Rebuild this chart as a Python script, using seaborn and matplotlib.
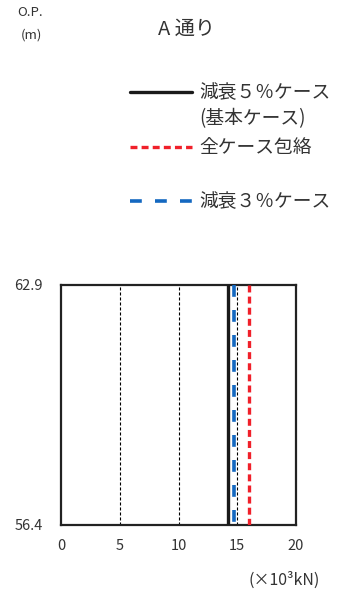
import matplotlib
matplotlib.use('Agg')
import matplotlib.pyplot as plt
import seaborn as sns
import pandas as pd
from matplotlib.lines import Line2D

# data
elevation = [62.9, 56.4]          # O.P. (m), top and bottom of the member
case_names = ['減衰５％ケース\n(基本ケース)', '全ケース包絡', '減衰３％ケース']
case_values = [14.2, 16.0, 14.7]  # (x10^3 kN), constant over the height
x_ticks = [0, 5, 10, 15, 20]
y_tick_labels = ['56.4', '62.9']

# styles per case
case_colors = ['#1a1a1a', '#f0202a', '#1468c0']
case_widths = [2.4, 2.4, 2.6]
case_dashes = [None, (0, (5.0, 3.0)), (0, (8.5, 9.5))]

sns.set_theme(style='white')
plt.rcParams['font.family'] = ['Noto Sans CJK JP', 'DejaVu Sans']
plt.rcParams['lines.scale_dashes'] = False

fig = plt.figure(figsize=(3.39, 5.98), dpi=100)
ax = fig.add_axes([61 / 339, 73 / 598, 235 / 339, 240 / 598])

# dashed vertical grid lines
for xv in x_ticks[1:-1]:
    ax.axvline(xv, color='black', lw=0.8, linestyle=(0, (2.2, 1.4)), zorder=1)

# one vertical line per case
order = [0, 2, 1]
for i in order:
    df = pd.DataFrame({'x': [case_values[i]] * len(elevation), 'y': elevation})
    kw = {}
    if case_dashes[i] is not None:
        kw['linestyle'] = case_dashes[i]
    sns.lineplot(data=df, x='x', y='y', sort=False, estimator=None,
                 color=case_colors[i], lw=case_widths[i], ax=ax, zorder=3, **kw)

ax.set_xlim(x_ticks[0], x_ticks[-1])
ax.set_ylim(min(elevation), max(elevation))
ax.set_xticks(x_ticks)
ax.set_xticklabels([str(t) for t in x_ticks])
ax.set_yticks(sorted(elevation))
ax.set_yticklabels(y_tick_labels)
ax.set_xlabel('')
ax.set_ylabel('')
ax.tick_params(axis='x', length=0, pad=10, labelsize=10.5, labelcolor='#333333')
ax.tick_params(axis='y', length=0, pad=13, labelsize=10.5, labelcolor='#333333')
for s in ax.spines.values():
    s.set_color('#222222')
    s.set_linewidth(1.6)

# header texts
fig.text(30 / 339, 1 - 13 / 598, 'O.P.', ha='center', va='center', fontsize=9.5, color='#333333')
fig.text(31 / 339, 1 - 35 / 598, '(m)', ha='center', va='center', fontsize=9.5, color='#333333')
fig.text(186 / 339, 1 - 29 / 598, 'A 通り', ha='center', va='center', fontsize=14.5, color='#333333')
fig.text(284 / 339, 1 - 580 / 598, '(×10³kN)', ha='center', va='center', fontsize=11.5, color='#333333')

# legend drawn by hand to follow the reference layout
key_y = [92, 147, 201]
for i, yy in enumerate(key_y):
    ls = case_dashes[i] if case_dashes[i] is not None else '-'
    fig.add_artist(Line2D([130 / 339, 192 / 339], [1 - yy / 598, 1 - yy / 598],
                          transform=fig.transFigure, color=case_colors[i],
                          lw=case_widths[i], linestyle=ls))
    fig.text(199 / 339, 1 - (yy - 10) / 598, case_names[i], ha='left', va='top',
             fontsize=13.5, color='#333333', linespacing=1.3)

fig.savefig('out.png', dpi=100)
